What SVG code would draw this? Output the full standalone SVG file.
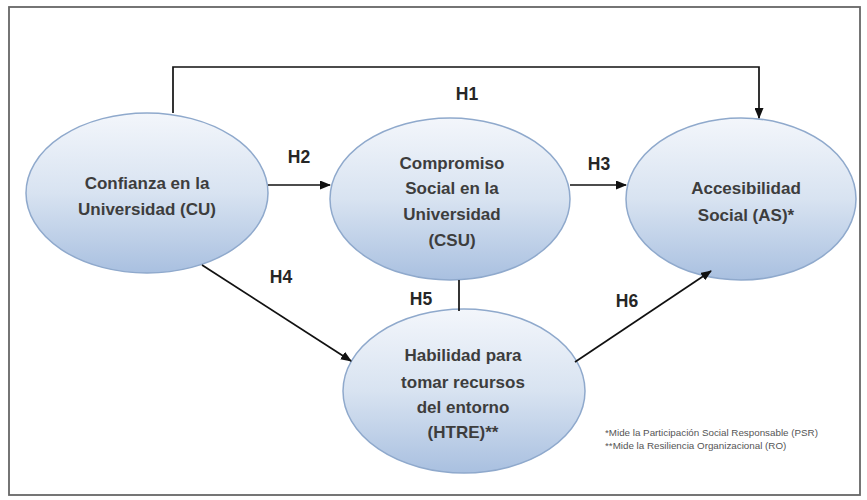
<svg xmlns="http://www.w3.org/2000/svg" width="867" height="500" viewBox="0 0 867 500">
<defs>
<linearGradient id="g" x1="0" y1="0" x2="0" y2="1">
<stop offset="0" stop-color="#f3f6fb"/>
<stop offset="0.5" stop-color="#d8e3f1"/>
<stop offset="1" stop-color="#a9c0e0"/>
</linearGradient>
<marker id="arr" markerWidth="11" markerHeight="9" refX="10" refY="4.5" orient="auto" markerUnits="userSpaceOnUse">
<path d="M0,0 L11,4.5 L0,9 Z" fill="#111"/>
</marker>
</defs>
<style>
.node{fill:url(#g);stroke:#8fa9cc;stroke-width:1.5}
.t{font-family:"Liberation Sans",Arial,sans-serif;font-weight:bold;font-size:17px;fill:#3d3d3d;text-anchor:middle}
.h{font-family:"Liberation Sans",Arial,sans-serif;font-weight:bold;font-size:17.5px;fill:#262626;text-anchor:middle}
.c{fill:none;stroke:#111;stroke-width:1.7}
.f{font-family:"Liberation Sans",Arial,sans-serif;font-size:9.8px;fill:#555}
</style>
<rect x="0" y="0" width="867" height="500" fill="#fff"/>
<rect x="9" y="7" width="851" height="488" fill="#fff" stroke="#666" stroke-width="1.8"/>
<g id="CU">
<ellipse class="node" cx="147" cy="193" rx="121" ry="80"/>
<text class="t" x="147" y="189">Confianza en la</text>
<text class="t" x="147" y="215">Universidad (CU)</text>
</g>
<g id="CSU">
<ellipse class="node" cx="450" cy="199" rx="120" ry="81"/>
<text class="t" x="452" y="169">Compromiso</text>
<text class="t" x="452" y="194">Social en la</text>
<text class="t" x="452" y="220">Universidad</text>
<text class="t" x="452" y="246">(CSU)</text>
</g>
<g id="AS">
<ellipse class="node" cx="741" cy="199" rx="115" ry="81"/>
<text class="t" x="746" y="194">Accesibilidad</text>
<text class="t" x="746" y="221">Social (AS)*</text>
</g>
<g id="HTRE">
<ellipse class="node" cx="464" cy="391" rx="121" ry="82"/>
<text class="t" x="463" y="361">Habilidad para</text>
<text class="t" x="463" y="388">tomar recursos</text>
<text class="t" x="463" y="413">del entorno</text>
<text class="t" x="463" y="438">(HTRE)**</text>
</g>
<g id="connectors">
<path class="c" d="M173,113 V67 H759 V118" marker-end="url(#arr)"/>
<path class="c" d="M268,185 H330" marker-end="url(#arr)"/>
<path class="c" d="M570,185 H626" marker-end="url(#arr)"/>
<path class="c" d="M202,265 L351,361" marker-end="url(#arr)"/>
<path class="c" d="M459,280 V311"/>
<path class="c" d="M575,362 L711,271" marker-end="url(#arr)"/>
<text class="h" x="467" y="100">H1</text>
<text class="h" x="299" y="163">H2</text>
<text class="h" x="599" y="170">H3</text>
<text class="h" x="281" y="283">H4</text>
<text class="h" x="421" y="305">H5</text>
<text class="h" x="627" y="307">H6</text>
</g>
<g id="notes">
<text class="f" x="605" y="436">*Mide la Participación Social Responsable (PSR)</text>
<text class="f" x="605" y="449">**Mide la Resiliencia Organizacional (RO)</text>
</g>
</svg>
